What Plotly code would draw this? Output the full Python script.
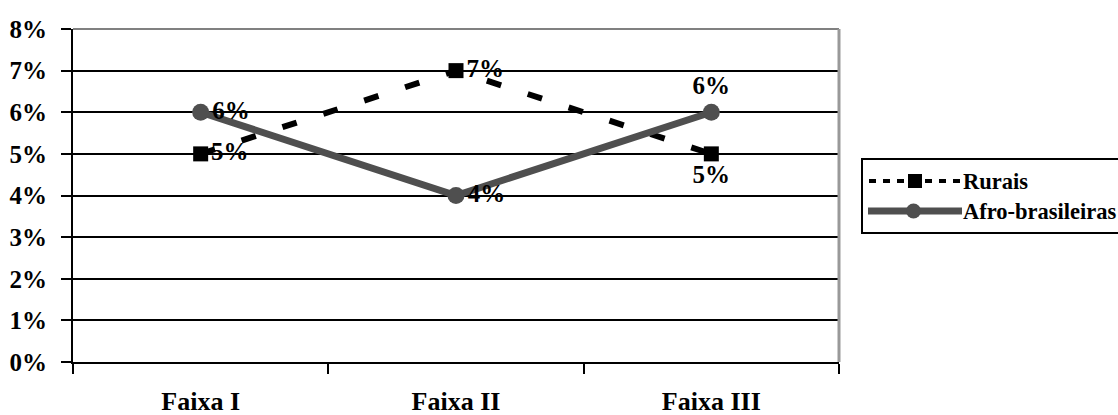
import plotly.graph_objects as go

# Data
faixas = ["Faixa I", "Faixa II", "Faixa III"]
rurais = [5, 7, 5]
afro = [6, 4, 6]
rurais_pos = ["middle right", "middle right", "bottom center"]
afro_pos = ["middle right", "middle right", "top center"]

W, H = 1118, 415
L, R, T, B = 73, 839, 29, 362  # plot area in pixels

def px_x(p):
    return (p - L) / (R - L)

def px_y(p):
    return (B - p) / (B - T)

serif = "Liberation Serif"
gray = "#4f4f4f"

fig = go.Figure()

fig.add_trace(go.Scatter(
    x=faixas, y=rurais, name="Rurais", mode="lines+markers+text",
    line=dict(color="black", width=6, dash="15px,28px"),
    marker=dict(symbol="square", size=15, color="black"),
    text=[f"{v}%" for v in rurais], textposition=rurais_pos,
    textfont=dict(family=serif, size=25, color="black", weight="bold"),
    showlegend=False, cliponaxis=False,
))
fig.add_trace(go.Scatter(
    x=faixas, y=afro, name="Afro-brasileiras", mode="lines+markers+text",
    line=dict(color=gray, width=7),
    marker=dict(symbol="circle", size=17, color=gray),
    text=[f"{v}%" for v in afro], textposition=afro_pos,
    textfont=dict(family=serif, size=25, color="black", weight="bold"),
    showlegend=False, cliponaxis=False,
))

shapes = [
    # gray frame on top and right of plot area
    dict(type="line", xref="paper", yref="paper", x0=0, x1=1, y0=1, y1=1,
         line=dict(color="#808080", width=2), layer="above"),
    dict(type="line", xref="paper", yref="paper", x0=1, x1=1, y0=0, y1=1,
         line=dict(color="#999999", width=3), layer="above"),
    # legend box
    dict(type="rect", xref="paper", yref="paper",
         x0=px_x(862), x1=px_x(1130), y0=px_y(233), y1=px_y(159),
         line=dict(color="black", width=2), fillcolor="white"),
    # legend: Rurais
    dict(type="line", xref="paper", yref="paper",
         x0=px_x(869), x1=px_x(962), y0=px_y(181), y1=px_y(181),
         line=dict(color="black", width=4, dash="7px,7px")),
    dict(type="rect", xref="paper", yref="paper",
         x0=px_x(908), x1=px_x(922), y0=px_y(188), y1=px_y(174),
         line=dict(width=0), fillcolor="black"),
    # legend: Afro-brasileiras
    dict(type="line", xref="paper", yref="paper",
         x0=px_x(868), x1=px_x(962), y0=px_y(211), y1=px_y(211),
         line=dict(color=gray, width=7)),
    dict(type="circle", xref="paper", yref="paper",
         x0=px_x(906), x1=px_x(921), y0=px_y(218.5), y1=px_y(203.5),
         line=dict(width=0), fillcolor=gray),
]

annotations = [
    dict(text="Rurais", xref="paper", yref="paper", x=px_x(961), y=px_y(181),
         xanchor="left", yanchor="middle", showarrow=False,
         font=dict(family=serif, size=22.5, color="black", weight="bold")),
    dict(text="Afro-brasileiras", xref="paper", yref="paper", x=px_x(961), y=px_y(211),
         xanchor="left", yanchor="middle", showarrow=False,
         font=dict(family=serif, size=22.5, color="black", weight="bold")),
]

fig.update_layout(
    width=W, height=H,
    margin=dict(l=L, r=W - R, t=T, b=H - B, pad=0),
    paper_bgcolor="white", plot_bgcolor="white",
    shapes=shapes, annotations=annotations,
    font=dict(family=serif, color="black"),
)

fig.update_xaxes(
    type="category", range=[-0.5, 2.5], automargin=False,
    showgrid=False, zeroline=False,
    showline=True, linecolor="black", linewidth=2,
    ticks="outside", tickson="boundaries", ticklen=10, tickwidth=2, tickcolor="black",
    tickfont=dict(family=serif, size=26, color="black", weight="bold"),
    ticklabelstandoff=15,
)
fig.update_yaxes(
    range=[0, 8], dtick=1, ticksuffix="%", automargin=False,
    showgrid=True, gridcolor="black", gridwidth=2,
    zeroline=False, showline=True, linecolor="black", linewidth=2,
    ticks="outside", ticklen=10, tickwidth=2, tickcolor="black",
    tickfont=dict(family=serif, size=25, color="black", weight="bold"),
    ticklabelstandoff=9,
)

fig.write_html("out.html")
